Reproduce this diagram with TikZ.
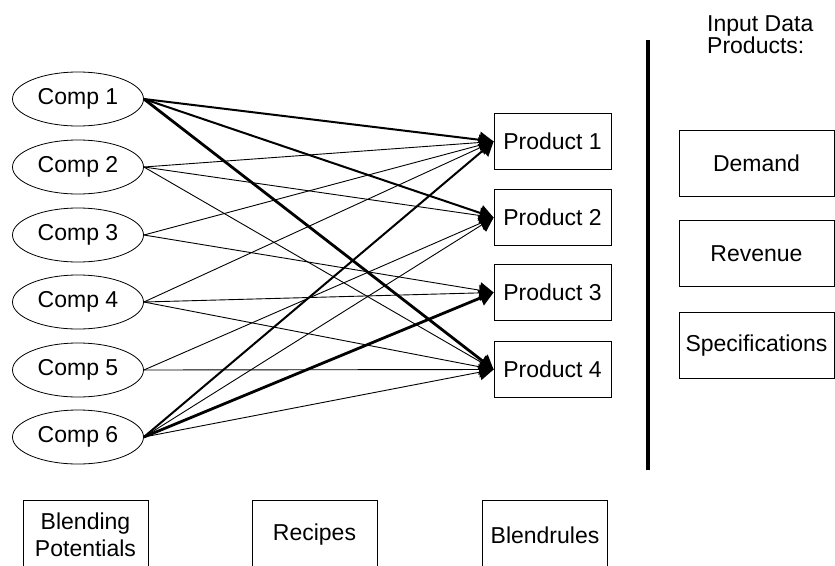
\documentclass[tikz,border=0pt]{standalone}
\usepackage{fontspec}
\setmainfont{Liberation Sans}
\usetikzlibrary{shapes.geometric,arrows.meta}

\tikzset{
  comp/.style={draw, ellipse, line width=0.8pt, minimum width=131pt, minimum height=54pt, inner sep=0pt},
  prodbox/.style={draw, rectangle, line width=0.8pt, minimum width=117pt, minimum height=56pt, inner sep=0pt},
  databox/.style={draw, rectangle, line width=0.8pt, minimum width=155pt, minimum height=66pt, inner sep=0pt},
  basebox/.style={draw, rectangle, line width=0.8pt, minimum width=125pt, minimum height=70pt, inner sep=0pt, align=center},
  flow/.style={line width=0.9pt, -{Triangle[length=14pt,width=16pt]}},
  bigflow/.style={flow, line width=2pt},
  heavyflow/.style={flow, line width=2.8pt}
}

\begin{document}
\begin{tikzpicture}[x=1pt, y=-1pt, font=\fontsize{23}{27}\selectfont]
        \useasboundingbox (0,0) rectangle (835,565);
        \clip (0,0) rectangle (835,565);

        % Components
        \node[comp] (c1) at (78,99) {Comp 1};
        \node[comp] (c2) at (78,167) {Comp 2};
        \node[comp] (c3) at (78,235) {Comp 3};
        \node[comp] (c4) at (78,302) {Comp 4};
        \node[comp] (c5) at (78,370) {Comp 5};
        \node[comp] (c6) at (78,437) {Comp 6};

        % Products
        \node[prodbox] (p1) at (552.5,141.5) {Product 1};
        \node[prodbox] (p2) at (552.5,217.5) {Product 2};
        \node[prodbox] (p3) at (552.5,292.5) {Product 3};
        \node[prodbox] (p4) at (552.5,369.5) {Product 4};

        % Recipes from components to products
        \draw[bigflow] (c1.east) -- (p1.west);
        \draw[bigflow] (c1.east) -- (p2.west);
        \draw[heavyflow] (c1.east) -- (p4.west);

        \draw[flow] (c2.east) -- (p1.west);
        \draw[flow] (c2.east) -- (p2.west);
        \draw[flow] (c2.east) -- (p4.west);

        \draw[flow] (c3.east) -- (p1.west);
        \draw[flow] (c3.east) -- (p3.west);

        \draw[flow] (c4.east) -- (p1.west);
        \draw[flow] (c4.east) -- (p3.west);
        \draw[flow] (c4.east) -- (p4.west);

        \draw[flow] (c5.east) -- (p2.west);
        \draw[flow] (c5.east) -- (p4.west);

        \draw[bigflow] (c6.east) -- (p1.west);
        \draw[flow] (c6.east) -- (p2.west);
        \draw[heavyflow] (c6.east) -- (p3.west);
        \draw[flow] (c6.east) -- (p4.west);

        % Divider
        \draw[line width=3.5pt] (648,40) -- (648,470);

        % Input data for products
        \node[anchor=north west, align=left, inner sep=0pt, font=\fontsize{23}{20}\selectfont] (inp) at (707,15) {Input Data\\Products:};
        \node[databox] (dem) at (756.5,163) {Demand};
        \node[databox] (rev) at (756.5,253.5) {Revenue};
        \node[databox] (spec) at (756.5,345.5) {Specifications};

        % Bottom boxes
        \node[basebox] (pot) at (85.5,535) {Blending\\Potentials};
        \node[basebox] (rec) at (314.5,535) {Recipes};
        \node[basebox] (rules) at (545,535) {Blendrules};
\end{tikzpicture}
\end{document}
